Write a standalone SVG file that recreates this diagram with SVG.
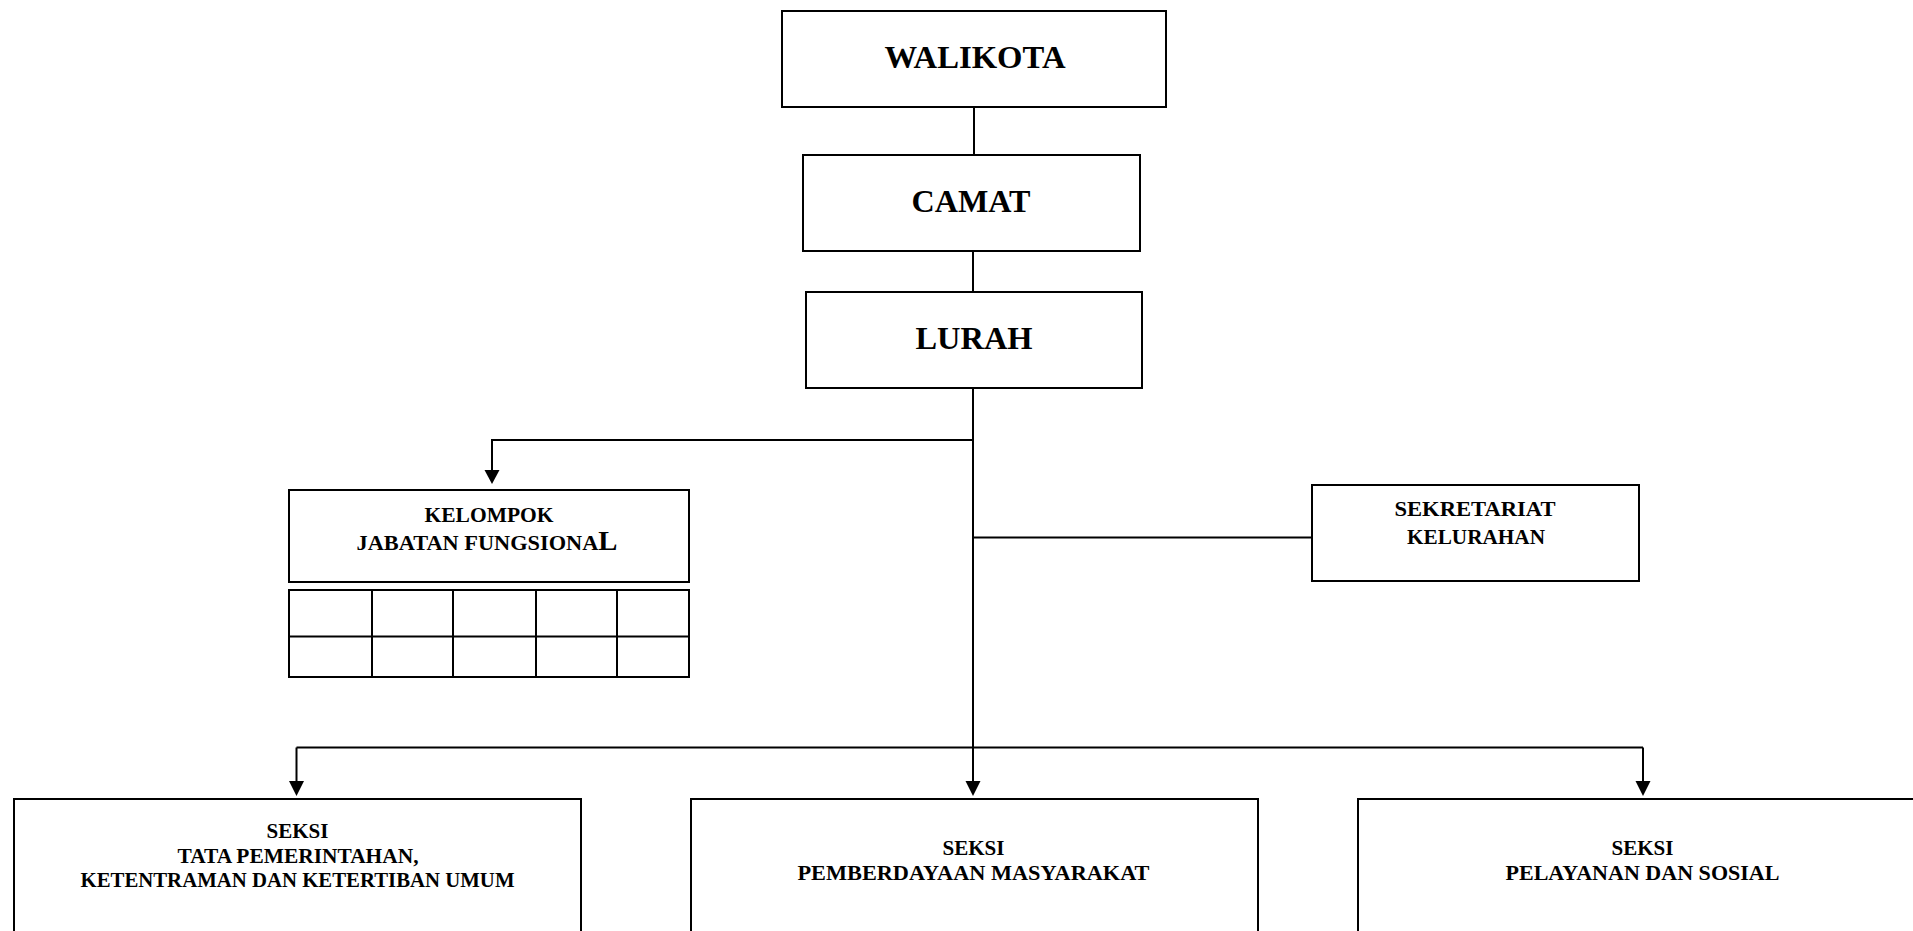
<svg xmlns="http://www.w3.org/2000/svg" width="1913" height="931" viewBox="0 0 1913 931">
<style>
.box{fill:#fff;stroke:#000;stroke-width:2}
.ln{fill:none;stroke:#000;stroke-width:2}
.t{font-family:"Liberation Serif","Times New Roman",serif;font-weight:bold;fill:#000;text-anchor:middle}
.big{font-size:32px}
.sm{font-size:21px}
.xs{font-size:20.5px}
</style>
<rect width="1913" height="931" fill="#fff"/>
<g id="connectors">
<line class="ln" x1="974" y1="107" x2="974" y2="155"/>
<line class="ln" x1="973" y1="251" x2="973" y2="292"/>
<line class="ln" x1="973" y1="388" x2="973" y2="747"/>
<polyline class="ln" points="973,440 492,440 492,470"/>
<path d="M484.5,470 L499.5,470 L492,484 Z" fill="#000"/>
<line class="ln" x1="973" y1="537.5" x2="1311" y2="537.5"/>
<line class="ln" x1="296.5" y1="747.5" x2="1643" y2="747.5"/>
<line class="ln" x1="296.5" y1="747.5" x2="296.5" y2="782"/>
<path d="M289,781 L304,781 L296.5,796 Z" fill="#000"/>
<line class="ln" x1="973" y1="747" x2="973" y2="782"/>
<path d="M965.5,781 L980.5,781 L973,796 Z" fill="#000"/>
<line class="ln" x1="1643" y1="747.5" x2="1643" y2="782"/>
<path d="M1635.5,781 L1650.5,781 L1643,796 Z" fill="#000"/>
</g>
<g id="walikota">
<rect class="box" x="782" y="11" width="384" height="96"/>
<text class="t big" x="975" y="68" textLength="181" lengthAdjust="spacingAndGlyphs">WALIKOTA</text>
</g>
<g id="camat">
<rect class="box" x="803" y="155" width="337" height="96"/>
<text class="t big" x="971" y="212" textLength="119" lengthAdjust="spacingAndGlyphs">CAMAT</text>
</g>
<g id="lurah">
<rect class="box" x="806" y="292" width="336" height="96"/>
<text class="t big" x="974" y="349" textLength="117" lengthAdjust="spacingAndGlyphs">LURAH</text>
</g>
<g id="kelompok">
<rect class="box" x="289" y="490" width="400" height="92"/>
<text class="t sm" x="489" y="521.5" textLength="129" lengthAdjust="spacingAndGlyphs">KELOMPOK</text>
<text class="t sm" x="487" y="550" textLength="261" lengthAdjust="spacingAndGlyphs">JABATAN FUNGSIONA<tspan font-size="27px">L</tspan></text>
</g>
<g id="tabel">
<rect class="box" x="289" y="590" width="400" height="87"/>
<line class="ln" x1="289" y1="636.5" x2="689" y2="636.5"/>
<line class="ln" x1="372" y1="590" x2="372" y2="677"/>
<line class="ln" x1="453" y1="590" x2="453" y2="677"/>
<line class="ln" x1="536" y1="590" x2="536" y2="677"/>
<line class="ln" x1="617" y1="590" x2="617" y2="677"/>
</g>
<g id="sekretariat">
<rect class="box" x="1312" y="485" width="327" height="96"/>
<text class="t sm" x="1475" y="516" textLength="161" lengthAdjust="spacingAndGlyphs">SEKRETARIAT</text>
<text class="t sm" x="1476" y="543.5" textLength="138" lengthAdjust="spacingAndGlyphs">KELURAHAN</text>
</g>
<g id="seksi-tapem">
<rect class="box" x="14" y="799" width="567" height="180"/>
<text class="t xs" x="297.5" y="837.5" textLength="62" lengthAdjust="spacingAndGlyphs">SEKSI</text>
<text class="t xs" x="298" y="862.5" textLength="241" lengthAdjust="spacingAndGlyphs">TATA PEMERINTAHAN,</text>
<text class="t xs" x="297.5" y="886.5" textLength="434" lengthAdjust="spacingAndGlyphs">KETENTRAMAN DAN KETERTIBAN UMUM</text>
</g>
<g id="seksi-pm">
<rect class="box" x="691" y="799" width="567" height="180"/>
<text class="t xs" x="973.5" y="854.5" textLength="62" lengthAdjust="spacingAndGlyphs">SEKSI</text>
<text class="t xs" x="973.5" y="880" textLength="352" lengthAdjust="spacingAndGlyphs">PEMBERDAYAAN MASYARAKAT</text>
</g>
<g id="seksi-ps">
<rect class="box" x="1358" y="799" width="600" height="180"/>
<text class="t xs" x="1642.5" y="854.5" textLength="62" lengthAdjust="spacingAndGlyphs">SEKSI</text>
<text class="t xs" x="1642.5" y="880" textLength="274" lengthAdjust="spacingAndGlyphs">PELAYANAN DAN SOSIAL</text>
</g>
</svg>
